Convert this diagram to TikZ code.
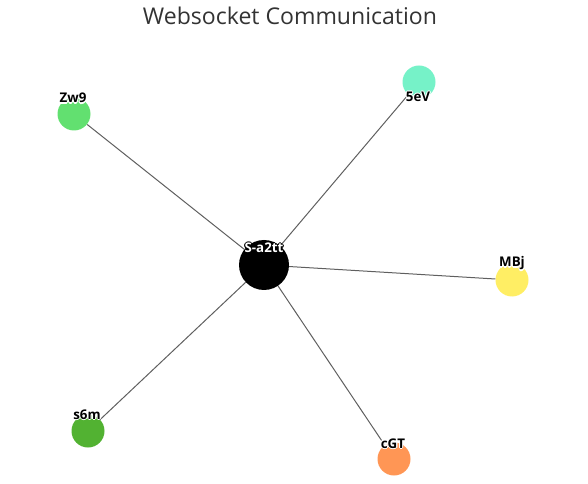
\documentclass[tikz,border=0pt]{standalone}
\usepackage{fontspec}
\setmainfont{Open Sans}
\usepackage{xcolor}
\definecolor{titlegray}{RGB}{51,51,51}
\definecolor{linkgray}{RGB}{95,95,95}
\definecolor{zwgreen}{RGB}{98,224,112}
\definecolor{evaqua}{RGB}{118,242,200}
\definecolor{mbyellow}{RGB}{255,238,100}
\definecolor{smgreen}{RGB}{82,178,50}
\definecolor{gtorange}{RGB}{255,150,85}

% text with an outline drawn round it
\newcommand{\halotext}[5]{%
  \foreach \hx/\hy in {-0.8/0,0.8/0,0/-0.8,0/0.8,-0.6/-0.6,0.6/0.6,-0.6/0.6,0.6/-0.6}
    \node[tag, text=#5, xshift=\hx pt, yshift=\hy pt] at (#2) {#3};
  \node[tag, text=#4] (#1) at (#2) {#3};
}

\begin{document}
\begin{tikzpicture}[x=0.75pt, y=-0.75pt,
  dot/.style={circle, inner sep=0pt, minimum size=#1*0.75pt},
  link/.style={linkgray, line width=0.75pt},
  tag/.style={anchor=base, inner sep=0pt, font=\bfseries\fontsize{10}{10}\selectfont}]
  \useasboundingbox (0,0) rectangle (588,484);
  \node[anchor=base, inner sep=0pt, text=titlegray, font=\fontsize{17.3}{17.3}\selectfont] (title) at (290,25) {Websocket Communication};
  % hub
  \node[dot=50, fill=black] (hub) at (264,265) {};
  % clients
  \node[dot=33, fill=zwgreen] (zw9) at (74,114) {};
  \node[dot=33, fill=evaqua] (5ev) at (419,82) {};
  \node[dot=33, fill=mbyellow] (mbj) at (512,280) {};
  \node[dot=33, fill=smgreen] (s6m) at (88,431) {};
  \node[dot=33, fill=gtorange] (cgt) at (394,459) {};
  % links
  \foreach \c in {zw9,5ev,mbj,s6m,cgt}
    \draw[link] (hub) -- (\c);
  % labels
  \halotext{hublbl}{264,253}{S-a2tt}{white}{black}
  \halotext{zw9lbl}{73,103}{Zw9}{black}{white}
  \halotext{5evlbl}{418,102}{5eV}{black}{white}
  \halotext{mbjlbl}{512,267}{MBj}{black}{white}
  \halotext{s6mlbl}{87,419}{s6m}{black}{white}
  \halotext{cgtlbl}{393,448}{cGT}{black}{white}
\end{tikzpicture}
\end{document}
